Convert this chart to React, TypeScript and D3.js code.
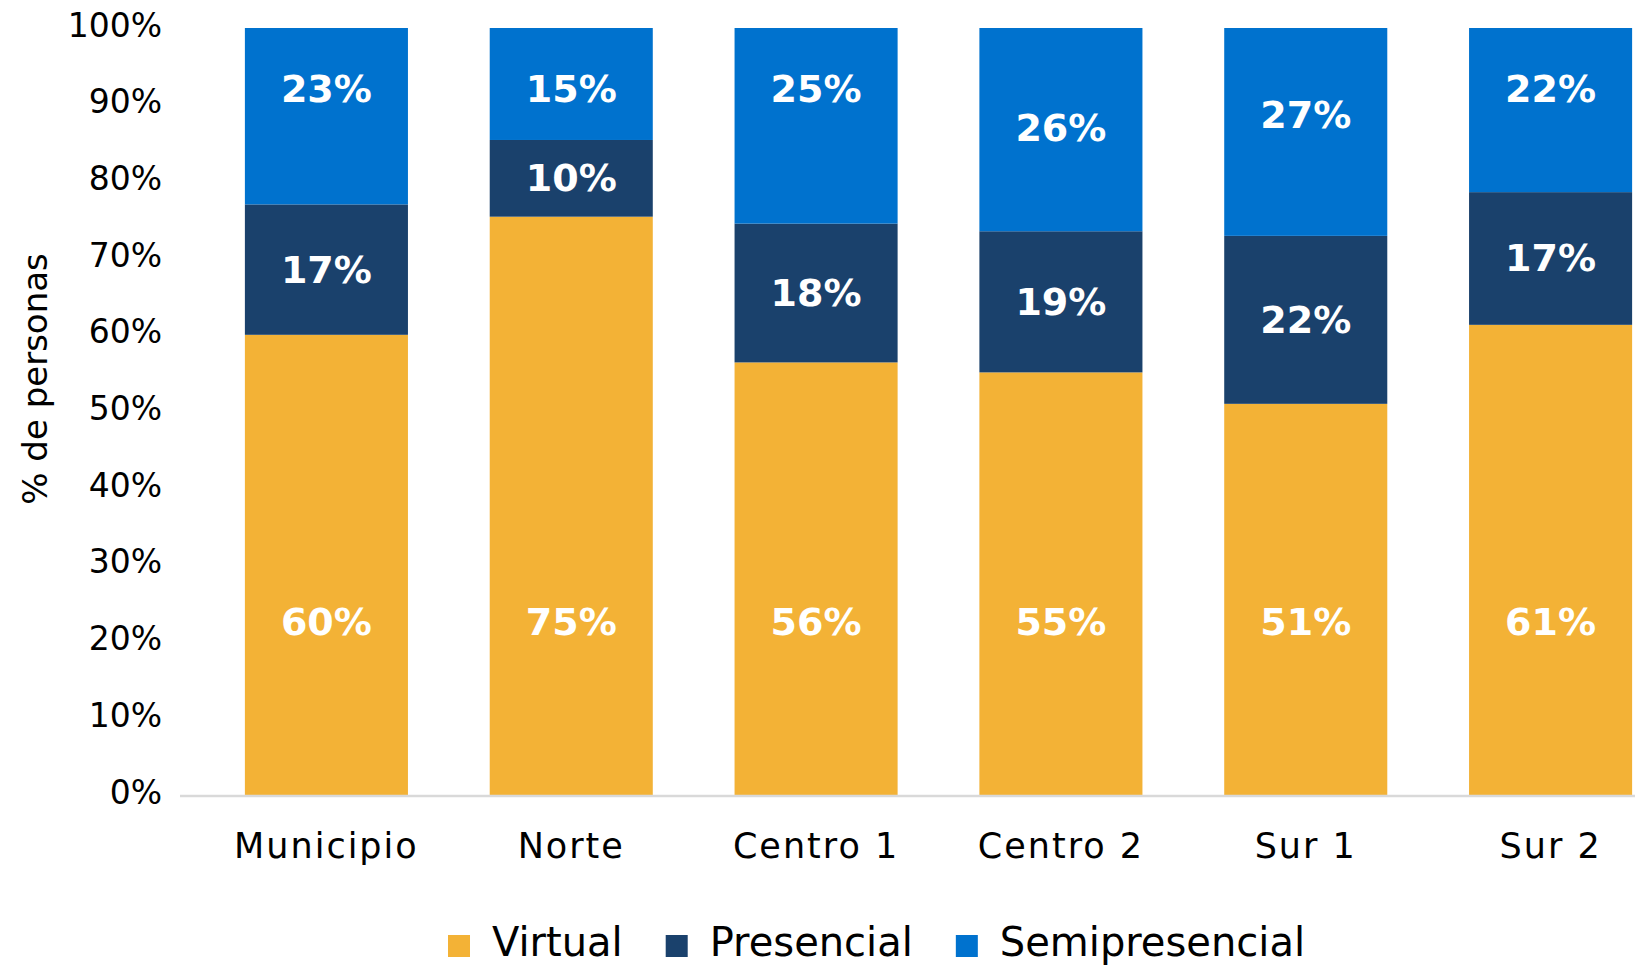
import React, { useEffect, useRef } from 'react';
import * as d3 from 'd3';

const categories = ['Municipio', 'Norte', 'Centro 1', 'Centro 2', 'Sur 1', 'Sur 2'];
const seriesNames = ['Virtual', 'Presencial', 'Semipresencial'];
// Segment sizes (percent of persons)
const virtualValues = [60.0, 75.4, 56.4, 55.1, 51.0, 61.3];
const presencialValues = [17.0, 10.0, 18.1, 18.4, 21.9, 17.3];
const semipresencialValues = [23.0, 14.6, 25.5, 26.5, 27.1, 21.4];
// Labels as printed on the chart
const virtualLabels = ['60%', '75%', '56%', '55%', '51%', '61%'];
const presencialLabels = ['17%', '10%', '18%', '19%', '22%', '17%'];
const semipresencialLabels = ['23%', '15%', '25%', '26%', '27%', '22%'];
// Where (in % units) the hand-placed labels sit
const virtualLabelAt = [22.6, 22.6, 22.6, 22.6, 22.6, 22.6];
const semipresencialLabelAt = [92.0, 92.0, 92.0, 87.0, 88.7, 92.1];
const yTicks = [0, 10, 20, 30, 40, 50, 60, 70, 80, 90, 100];
const yAxisTitle = '% de personas';

const colors = ['#F3B236', '#1A416C', '#0072CE'];
const FONT = '"DejaVu Sans", sans-serif';

export default function App() {
  const legendRef = useRef<SVGGElement>(null);

  const W = 1635;
  const H = 967;
  const x = d3
    .scaleBand<string>()
    .domain(categories)
    .range([204, 1673])
    .paddingInner(0.334)
    .paddingOuter(0.167);
  const y = d3.scaleLinear().domain([0, 100]).range([795, 28]);

  const rows = categories.map((c, i) => ({
    cat: c,
    Virtual: virtualValues[i],
    Presencial: presencialValues[i],
    Semipresencial: semipresencialValues[i],
  }));
  const stack = d3.stack<any>().keys(seriesNames);
  const series = stack(rows);

  useEffect(() => {
    const g = d3.select(legendRef.current);
    g.selectAll('*').remove();
    let cx = 448;
    seriesNames.forEach((name, i) => {
      g.append('rect')
        .attr('x', cx)
        .attr('y', 935)
        .attr('width', 22)
        .attr('height', 22)
        .attr('fill', colors[i]);
      const t = g
        .append('text')
        .attr('x', cx + 44)
        .attr('y', 956)
        .attr('font-family', FONT)
        .attr('font-size', 40)
        .attr('fill', '#000')
        .text(name);
      const w = (t.node() as SVGTextElement).getComputedTextLength();
      cx = cx + 44 + w + 43;
    });
  }, []);

  const bw = x.bandwidth();

  return (
    <svg
      width={W}
      height={H}
      style={{ position: 'absolute', left: 0, top: 0, background: '#fff' }}
    >
      <rect x={0} y={0} width={W} height={H} fill="#fff" />
      {/* bars */}
      {series.map((s, si) => (
        <g key={s.key} fill={colors[si]}>
          {s.map((d, i) => (
            <rect
              key={i}
              x={x(categories[i])}
              y={y(d[1])}
              width={bw}
              height={y(d[0]) - y(d[1])}
            />
          ))}
        </g>
      ))}
      {/* axis line */}
      <line x1={180} x2={W} y1={y(0) + 1} y2={y(0) + 1} stroke="#D9D9D9" strokeWidth={2.5} />
      {/* y tick labels */}
      {yTicks.map((t) => (
        <text
          key={t}
          x={162}
          y={y(t) - 3}
          textAnchor="end"
          dominantBaseline="central"
          fontFamily={FONT}
          fontSize={33}
          fill="#000"
        >
          {t}%
        </text>
      ))}
      {/* y title */}
      <text
        transform={`translate(35, 379) rotate(-90)`}
        textAnchor="middle"
        dominantBaseline="central"
        fontFamily={FONT}
        fontSize={34}
        fill="#000"
      >
        {yAxisTitle}
      </text>
      {/* category labels */}
      {categories.map((c) => (
        <text
          key={c}
          x={(x(c) as number) + bw / 2}
          y={858}
          textAnchor="middle"
          fontFamily={FONT}
          fontSize={35}
          letterSpacing={2}
          fill="#000"
        >
          {c}
        </text>
      ))}
      {/* data labels */}
      {categories.map((c, i) => {
        const cx = (x(c) as number) + bw / 2;
        const pres = series[1][i];
        return (
          <g
            key={c}
            fill="#fff"
            fontFamily={FONT}
            fontWeight="bold"
            fontSize={38}
            textAnchor="middle"
            dominantBaseline="central"
          >
            <text x={cx} y={y(virtualLabelAt[i])}>{virtualLabels[i]}</text>
            <text x={cx} y={y((pres[0] + pres[1]) / 2)}>{presencialLabels[i]}</text>
            <text x={cx} y={y(semipresencialLabelAt[i])}>{semipresencialLabels[i]}</text>
          </g>
        );
      })}
      <g ref={legendRef} />
    </svg>
  );
}
